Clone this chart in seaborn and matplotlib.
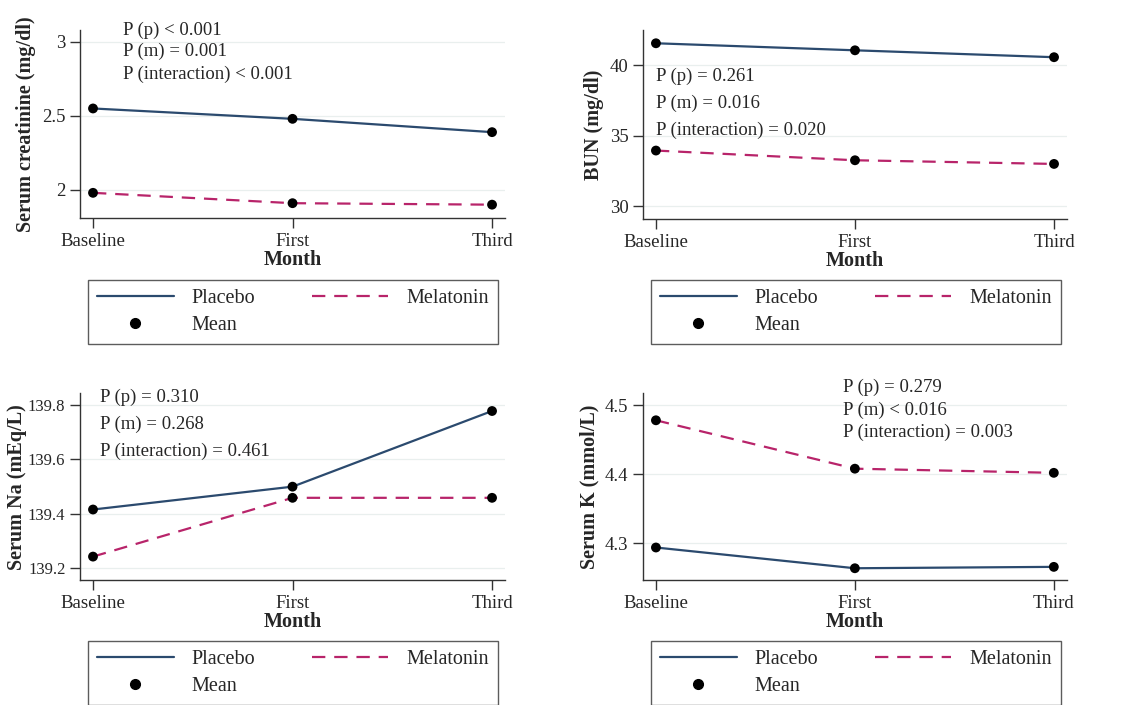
"""
Serum markers by month, placebo vs melatonin
Four panel line plot with means and p-values
"""

import pandas as pd
import matplotlib.pyplot as plt
import seaborn as sns
from matplotlib.lines import Line2D

sns.set_style("ticks")
plt.rcParams["font.family"] = ["Liberation Serif", "DejaVu Serif"]

MONTHS = ["Baseline", "First", "Third"]
GROUPS = ["Placebo", "Melatonin"]
COLORS = {"Placebo": "#2b4a6e", "Melatonin": "#b8246a"}

creat_placebo = [2.55, 2.48, 2.39]
creat_melatonin = [1.98, 1.91, 1.90]
bun_placebo = [41.56, 41.06, 40.57]
bun_melatonin = [33.94, 33.25, 32.99]
na_placebo = [139.416, 139.500, 139.778]
na_melatonin = [139.243, 139.459, 139.459]
k_placebo = [4.294, 4.264, 4.266]
k_melatonin = [4.478, 4.408, 4.402]

creat_p = ["P (p) < 0.001", "P (m) = 0.001", "P (interaction) < 0.001"]
bun_p = ["P (p) = 0.261", "P (m) = 0.016", "P (interaction) = 0.020"]
na_p = ["P (p) = 0.310", "P (m) = 0.268", "P (interaction) = 0.461"]
k_p = ["P (p) = 0.279", "P (m) < 0.016", "P (interaction) = 0.003"]

creat_ticks = [2, 2.5, 3]
creat_ticklabels = ["2", "2.5", "3"]
bun_ticks = [30, 35, 40]
bun_ticklabels = ["30", "35", "40"]
na_ticks = [139.2, 139.4, 139.6, 139.8]
na_ticklabels = ["139.2", "139.4", "139.6", "139.8"]
k_ticks = [4.3, 4.4, 4.5]
k_ticklabels = ["4.3", "4.4", "4.5"]

panels = [
    dict(placebo=creat_placebo, melatonin=creat_melatonin,
         ylabel="Serum creatinine (mg/dl)", ticks=creat_ticks,
         ticklabels=creat_ticklabels, ylim=(1.81, 3.08), ptext=creat_p,
         tx=0.15, ty=[3.08, 2.936, 2.78], ysize=13.5, ypad=4,
         rect=[0.0714, 0.6908, 0.3791, 0.2666],
         leg=(0.0785, 0.603)),
    dict(placebo=bun_placebo, melatonin=bun_melatonin,
         ylabel="BUN (mg/dl)", ticks=bun_ticks,
         ticklabels=bun_ticklabels, ylim=(29.08, 42.5), ptext=bun_p,
         tx=0.0, ty=[39.22, 37.31, 35.4], ysize=13.5, ypad=4,
         rect=[0.5736, 0.6894, 0.3782, 0.2680],
         leg=(0.5807, 0.603)),
    dict(placebo=na_placebo, melatonin=na_melatonin,
         ylabel="Serum Na (mEq/L)", ticks=na_ticks,
         ticklabels=na_ticklabels, ylim=(139.157, 139.843), ptext=na_p,
         tx=0.035, ty=[139.83, 139.73, 139.628], ysize=12, ypad=1,
         rect=[0.0714, 0.1773, 0.3791, 0.2648],
         leg=(0.0785, 0.091)),
    dict(placebo=k_placebo, melatonin=k_melatonin,
         ylabel="Serum K (mmol/L)", ticks=k_ticks,
         ticklabels=k_ticklabels, ylim=(4.247, 4.517), ptext=k_p,
         tx=0.94, ty=[4.526, 4.493, 4.46], ysize=13.5, ypad=4,
         rect=[0.5736, 0.1773, 0.3780, 0.2648],
         leg=(0.5807, 0.091)),
]

fig = plt.figure(figsize=(11.21, 7.05), dpi=100)

for p in panels:

    ax = fig.add_axes(p["rect"])

    df = pd.DataFrame({
        "month": [0, 1, 2] * 2,
        "value": p["placebo"] + p["melatonin"],
        "group": ["Placebo"] * 3 + ["Melatonin"] * 3,
    })

    for t in p["ticks"]:
        ax.axhline(t, color="#e9efee", lw=0.9, zorder=0)

    sns.lineplot(
        data=df, x="month", y="value",
        hue="group", style="group",
        palette=COLORS,
        dashes={"Placebo": "", "Melatonin": (6, 4)},
        linewidth=1.6, ax=ax, legend=False
    )

    sns.scatterplot(
        data=df, x="month", y="value",
        color="black", s=50, edgecolor="none",
        ax=ax, legend=False, zorder=4
    )

    for line, y in zip(p["ptext"], p["ty"]):
        ax.text(p["tx"], y, line, fontsize=13.5, va="center", ha="left")

    ax.set_xlim(-0.065, 2.065)
    ax.set_ylim(*p["ylim"])
    ax.set_xticks([0, 1, 2], MONTHS)
    ax.set_yticks(p["ticks"], p["ticklabels"])
    ax.tick_params(labelsize=13.5, length=7, width=1, color="#333333")
    ax.tick_params(axis="y", labelsize=p["ysize"])

    ax.set_xlabel("Month", fontsize=14.5, fontweight="bold", labelpad=0)
    ax.set_ylabel(p["ylabel"], fontsize=14.5, fontweight="bold",
                  labelpad=p["ypad"])

    sns.despine(ax=ax)
    for s in ["left", "bottom"]:
        ax.spines[s].set_color("#333333")
        ax.spines[s].set_linewidth(1)

    handles = [
        Line2D([], [], color=COLORS["Placebo"], lw=1.6),
        Line2D([], [], marker="o", color="black", ls="none", markersize=7),
        Line2D([], [], color=COLORS["Melatonin"], lw=1.6, dashes=(6, 4)),
    ]

    leg = ax.legend(
        handles, ["Placebo", "Mean", "Melatonin"],
        ncol=2, loc="upper left",
        bbox_to_anchor=p["leg"], bbox_transform=fig.transFigure,
        fontsize=14.5, frameon=True, fancybox=False,
        handlelength=3.8, handletextpad=0.9, labelspacing=0.4,
        columnspacing=2.8, borderpad=0.45, borderaxespad=0
    )
    leg.get_frame().set_edgecolor("#333333")
    leg.get_frame().set_linewidth(1)

plt.savefig("out.png", dpi=100)
